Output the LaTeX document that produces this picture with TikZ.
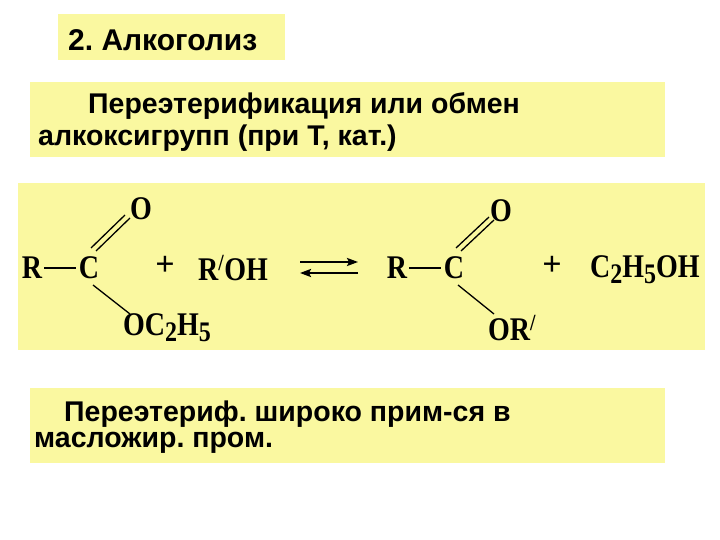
\documentclass[tikz,border=0pt]{standalone}
\usepackage{fontspec}
\usepackage{graphicx}
\usetikzlibrary{arrows.meta}
\setmainfont{Liberation Serif}
\setsansfont{Liberation Sans}
\frenchspacing
\definecolor{pale}{RGB}{250,248,160}
\newcommand{\tall}[1]{\scalebox{1.0}[1.18]{#1}}
\newcommand{\sbs}[1]{\raisebox{-5pt}{\fontsize{24}{26}\selectfont #1}}
\begin{document}
\begin{tikzpicture}[x=1pt,y=-1pt,
  box/.style={fill=pale,draw=none},
  txt/.style={font=\sffamily\bfseries\fontsize{28.5}{30}\selectfont,anchor=west,inner sep=0},
  chem/.style={font=\bfseries\fontsize{28}{30}\selectfont,inner sep=0},
  bond/.style={line width=1.3pt}]
\useasboundingbox (0,0) rectangle (720,540);
\fill[white] (0,0) rectangle (720,540);
\fill[box] (58,14) rectangle (285,60);
\node[txt,font=\sffamily\bfseries\fontsize{30}{32}\selectfont] (t) at (68,40) {2. Алкоголиз};
\fill[box] (30,82) rectangle (665,157);
\node[txt] (a1) at (88,106) {Переэтерификация или обмен};
\node[txt] (a2) at (38,138) {алкоксигрупп (при Т, кат.)};
\fill[box] (18,183) rectangle (705,350);
\fill[box] (30,388) rectangle (665,463);
\node[txt] (b1) at (64,414) {Переэтериф. широко прим-ся в};
\node[txt] (b2) at (34,443) {масложир. пром.};
% reaction
\node[chem] (R1) at (32,268) {\tall{R}};
\node[chem] (C1) at (89,268) {\tall{C}};
\node[chem] (O1) at (141,209) {\tall{O}};
\node[chem,anchor=west] (E1) at (123,328) {\tall{OC\sbs{2}H\sbs{5}}};
\draw[bond] (R1.east) ++(2,0) -- ([xshift=-3pt]C1.west);
\draw[bond] (96,251) -- (130,218);
\draw[bond] (91,248) -- (125,215);
\draw[bond] (93,285) -- (130,314);
\node[chem,font=\bfseries\fontsize{34}{36}\selectfont] (p1) at (165,266) {+};
\node[chem,anchor=west] (RO) at (198,268) {\tall{R\textsuperscript{/}OH}};
\coordinate (a) at (300,262); \coordinate (b) at (358,262);
\coordinate (c) at (358,273); \coordinate (d) at (300,273);
\draw[line width=2pt,-{Stealth[length=11pt,width=8pt,inset=2pt]}] (a) -- (b);
\draw[line width=2pt,-{Stealth[length=11pt,width=8pt,inset=2pt]}] (c) -- (d);
\node[chem] (R2) at (397,268) {\tall{R}};
\node[chem] (C2) at (454,268) {\tall{C}};
\node[chem] (O2) at (501,211) {\tall{O}};
\node[chem,anchor=west] (E2) at (488,328) {\tall{OR\textsuperscript{/}}};
\draw[bond] (R2.east) ++(2,0) -- ([xshift=-3pt]C2.west);
\draw[bond] (461,251) -- (494,220);
\draw[bond] (456,248) -- (489,217);
\draw[bond] (458,285) -- (494,314);
\node[chem,font=\bfseries\fontsize{34}{36}\selectfont] (p2) at (552,266) {+};
\node[chem,anchor=west] (EtOH) at (590,270) {\tall{C\sbs{2}H\sbs{5}OH}};
\end{tikzpicture}
\end{document}
